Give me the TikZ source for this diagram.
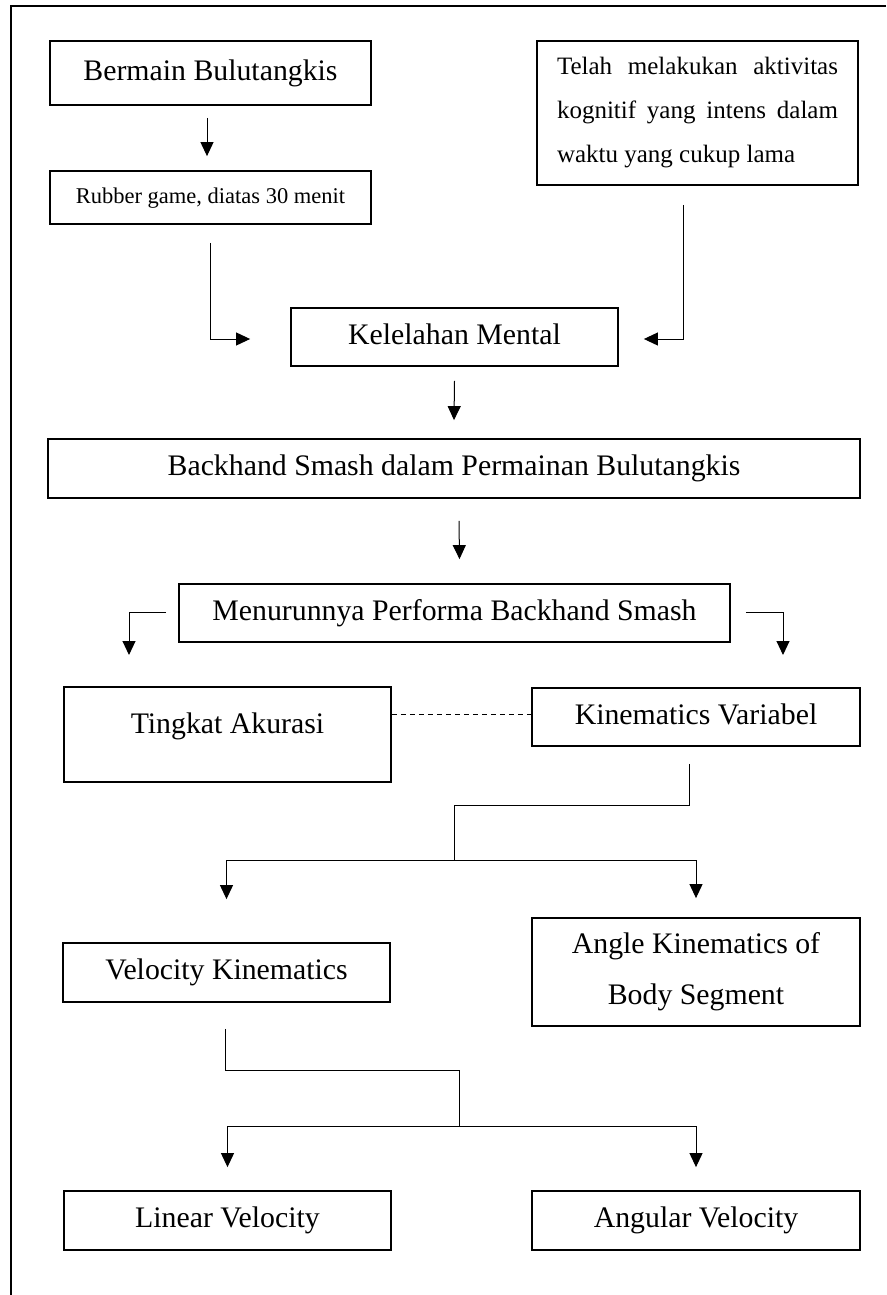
\documentclass[tikz,border=0pt]{standalone}
\usepackage{fontspec}
\setmainfont{Liberation Serif}
\usetikzlibrary{arrows.meta}
\tikzset{
  box/.style={draw, line width=1.8pt, inner sep=0pt, font=\fontsize{29.8}{36}\selectfont},
  oneline/.style={text height=21pt, text depth=6.5pt},
  conn/.style={line width=1pt},
  arr/.style={conn, -{Triangle[length=14pt,width=13pt]}},
  dashline/.style={line width=0.9pt, dash pattern=on 5pt off 4pt},
  frame/.style={line width=2pt}
}
\begin{document}
\begin{tikzpicture}[x=1pt,y=-1pt]
\useasboundingbox (0,0) rectangle (886,1295);
\draw[frame] (886,6) -- (11,6) -- (11,1296);

\node[box, oneline, minimum width=321pt, minimum height=64pt] (bermain) at (210.5,73) {Bermain Bulutangkis};
\node[box, minimum width=321pt, minimum height=53pt, font=\fontsize{22.5}{27}\selectfont, text height=16pt, text depth=5pt] (rubber) at (210.5,197.5) {Rubber game, diatas 30 menit};
\node[box, minimum width=321pt, minimum height=144pt, text width=281pt, align=justify, font=\fontsize{25}{44}\selectfont] (telah) at (697.5,113) {Telah melakukan aktivitas\linebreak kognitif yang intens dalam\linebreak waktu yang cukup lama};
\node[box, oneline, minimum width=327pt, minimum height=58pt] (kel) at (454.5,337) {Kelelahan Mental};
\node[box, oneline, minimum width=812pt, minimum height=59pt] (back) at (454,468.5) {Backhand Smash dalam Permainan Bulutangkis};
\node[box, oneline, minimum width=551pt, minimum height=58pt] (menurun) at (454.5,613) {Menurunnya Performa Backhand Smash};
\node[box, text height=21pt, text depth=24pt, minimum width=327pt, minimum height=95pt] (tingkat) at (227.5,734.5) {Tingkat Akurasi};
\node[box, oneline, minimum width=328pt, minimum height=58pt] (kinvar) at (696,717) {Kinematics Variabel};
\node[box, oneline, minimum width=327pt, minimum height=59pt] (velocity) at (226.5,972.5) {Velocity Kinematics};
\node[box, minimum width=328pt, minimum height=108pt, align=center, font=\fontsize{29.8}{51}\selectfont] (angle) at (696,972) {Angle Kinematics of\\Body Segment};
\node[box, oneline, minimum width=327pt, minimum height=59pt] (linear) at (227.5,1220.5) {Linear Velocity};
\node[box, oneline, minimum width=328pt, minimum height=59pt] (angular) at (696,1220.5) {Angular Velocity};

\coordinate (mlt) at (129,655);
\coordinate (mrt) at (783,655);
\coordinate (dashy) at (0,714);
\coordinate (kb) at (454,805);
\coordinate (br1) at (454,860);
\coordinate (vb) at (459,1070);
\coordinate (br2) at (459,1126);

\draw[arr] ([xshift=-3.5pt,yshift=-12pt]bermain.south) -- ([xshift=-3.5pt,yshift=14pt]rubber.north);
\draw[arr] ([yshift=-18pt]rubber.south) |- ([xshift=-40pt,yshift=-2pt]kel.west);
\draw[arr] ([xshift=-14.5pt,yshift=-19pt]telah.south) |- ([xshift=25pt,yshift=-2pt]kel.east);
\draw[arr] ([yshift=-14pt]kel.south) -- ([yshift=18pt]back.north);
\draw[arr] ([xshift=5pt,yshift=-22pt]back.south) -- ([xshift=5pt,yshift=24pt]menurun.north);
\draw[arr] ([xshift=-12pt,yshift=1pt]menurun.west) -| (mlt);
\draw[arr] ([xshift=15pt,yshift=1pt]menurun.east) -| (mrt);
\draw[dashline] (tingkat.east |- dashy) -- (kinvar.west |- dashy);

\draw[conn] ([xshift=-7pt,yshift=-17pt]kinvar.south) |- (kb) -- (br1);
\draw[conn] (velocity.north |- br1) -- (angle.north |- br1);
\draw[arr] (velocity.north |- br1) -- ([yshift=43pt]velocity.north);
\draw[arr] (angle.north |- br1) -- ([yshift=19pt]angle.north);

\draw[conn] ([xshift=-1.5pt,yshift=-26pt]velocity.south) |- (vb) -- (br2);
\draw[conn] (linear.north |- br2) -- (angular.north |- br2);
\draw[arr] (linear.north |- br2) -- ([yshift=23pt]linear.north);
\draw[arr] (angular.north |- br2) -- ([yshift=23pt]angular.north);
\end{tikzpicture}
\end{document}
